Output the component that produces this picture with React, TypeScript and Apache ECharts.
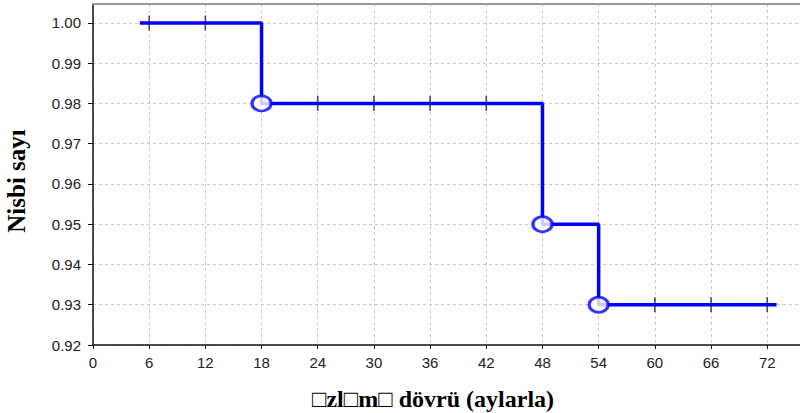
import React, { useEffect, useRef } from "react";
import * as echarts from "echarts";

const stepTimes = [5, 18, 48, 54, 73];
const stepSurvival = [1.0, 0.98, 0.95, 0.93, 0.93];
const eventTimes = [18, 48, 54];
const eventSurvival = [0.98, 0.95, 0.93];
const censorTimes = [6, 12, 24, 30, 36, 42, 60, 66, 72];
const censorSurvival = [1.0, 1.0, 0.98, 0.98, 0.98, 0.98, 0.93, 0.93, 0.93];
const yTitle = "Nisbi sayı";
const xTitle = "\u25A1zl\u25A1m\u25A1 dövrü (aylarla)";

export default function App() {
  const ref = useRef<HTMLDivElement>(null);
  useEffect(() => {
    if (!ref.current) return;
    const chart = echarts.init(ref.current, undefined, { renderer: "svg" });
    const labelStyle = { color: "#222", fontFamily: "Liberation Sans, Arial, sans-serif", fontSize: 15 };
    const split = { show: true, lineStyle: { color: "#c8c8c8", type: [3, 3] as any, width: 1 } };
    chart.setOption({
      animation: false,
      backgroundColor: "#fff",
      grid: { left: 93, top: 4, width: 707, height: 341, containLabel: false },
      xAxis: [
        {
          type: "value",
          min: 0,
          max: 75.5,
          interval: 6,
          axisLine: { show: true, onZero: false, lineStyle: { color: "#111", width: 1.5 } },
          axisTick: { show: true, length: 4, lineStyle: { color: "#111" } },
          axisLabel: { ...labelStyle, margin: 10, showMaxLabel: false },
          splitLine: split,
        },
        {
          type: "value",
          position: "top",
          min: 0,
          max: 75.5,
          axisLine: { show: true, lineStyle: { color: "#999", width: 2 } },
          axisTick: { show: false },
          axisLabel: { show: false },
          splitLine: { show: false },
        },
      ],
      yAxis: {
        type: "value",
        min: 0.92,
        max: 1.0047,
        interval: 0.01,
        axisLine: { show: true, lineStyle: { color: "#111", width: 1.5 } },
        axisTick: { show: true, length: 5, lineStyle: { color: "#111" } },
        axisLabel: {
          ...labelStyle,
          margin: 12,
          showMaxLabel: false,
          formatter: (v: number) => v.toFixed(2),
        },
        splitLine: split,
      },
      series: [
        {
          type: "line",
          step: "end",
          data: stepTimes.map((t, i) => [t, stepSurvival[i]]),
          showSymbol: false,
          lineStyle: { color: "#0000ff", width: 3.5 },
          z: 2,
        },
        {
          type: "scatter",
          data: censorTimes.map((t, i) => [t, censorSurvival[i]]),
          symbol: "rect",
          symbolSize: [1.6, 15],
          itemStyle: { color: "#14147a" },
          z: 3,
        },
        {
          type: "scatter",
          data: eventTimes.map((t, i) => [t, eventSurvival[i]]),
          symbol: "circle",
          symbolSize: [19, 15],
          itemStyle: { color: "#fff", borderColor: "#0000ff", borderWidth: 3 },
          z: 4,
        },
      ],
      graphic: [
        {
          type: "text",
          x: 16,
          y: 181,
          rotation: Math.PI / 2,
          style: {
            text: yTitle,
            fontFamily: "Liberation Serif, Times New Roman, serif",
            fontWeight: "bold",
            fontSize: 25,
            fill: "#000",
            align: "center",
            verticalAlign: "middle",
          },
        },
        {
          type: "text",
          x: 433,
          y: 399,
          style: {
            text: xTitle,
            fontFamily: "Liberation Serif, Times New Roman, serif",
            fontWeight: "bold",
            fontSize: 24,
            fill: "#000",
            align: "center",
            verticalAlign: "middle",
          },
        },
      ],
    });
    return () => chart.dispose();
  }, []);
  return (
    <div
      ref={ref}
      style={{ position: "fixed", left: 0, top: 0, width: 800, height: 413, background: "#fff" }}
    />
  );
}
